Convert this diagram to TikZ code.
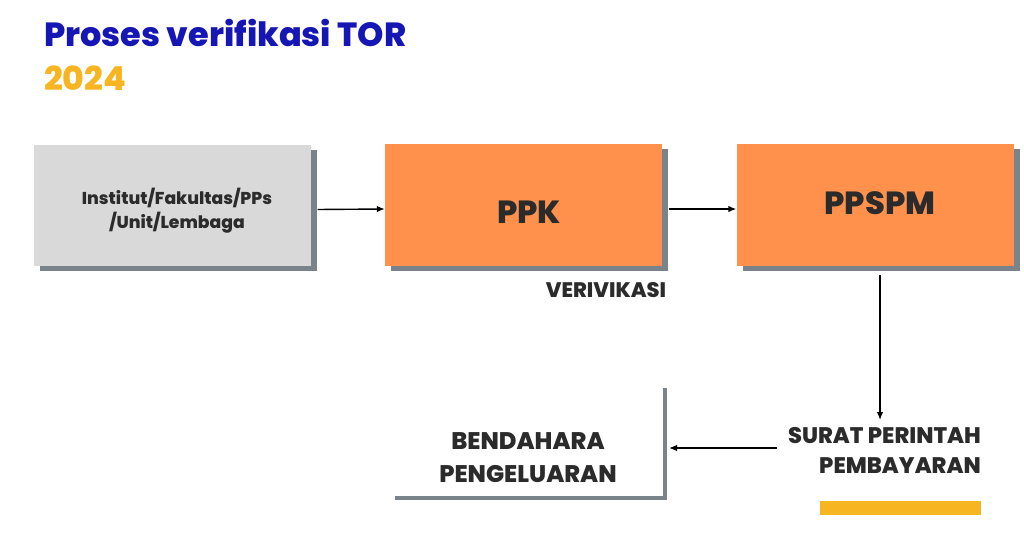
\documentclass[tikz,border=0pt]{standalone}
\usepackage{fontspec}
\setmainfont{Poppins}[BoldFont={* ExtraBold}]
\usetikzlibrary{arrows.meta,shadows}
\definecolor{titleblue}{HTML}{1616B4}
\definecolor{gold}{HTML}{F7B521}
\definecolor{boxgray}{HTML}{D9D9D9}
\definecolor{boxorange}{HTML}{FF914D}
\definecolor{shadowgray}{HTML}{7A838A}
\definecolor{txt}{HTML}{2B2B2B}
\tikzset{
  card/.style={minimum width=277pt, minimum height=121pt, inner sep=0pt,
    drop shadow={shadow xshift=6pt, shadow yshift=-5pt, fill=shadowgray, opacity=1}},
  conn/.style={draw=black, line width=1.4pt, -{Latex[length=8pt,width=6.5pt]}},
  lbl/.style={font=\bfseries\fontsize{21}{30}\selectfont, text=txt, align=center, inner sep=0pt},
}
\begin{document}
\begin{tikzpicture}[x=1pt,y=-1pt]
\useasboundingbox (0,0) rectangle (1024,556);
\node[anchor=base west, inner sep=0pt, text=titleblue, font=\bfseries\fontsize{33.5}{34}\selectfont] (title) at (44,47) {Proses verifikasi TOR};
\node[anchor=base west, inner sep=0pt, text=gold, font=\bfseries\fontsize{33}{34}\selectfont] (year) at (44,91) {2024};

\node[card, fill=boxgray] (inst) at (172,205.5) {};
\node[card, fill=boxorange] (ppk) at (523.5,205) {};
\node[card, fill=boxorange] (ppspm) at (875,205) {};
\node[lbl, font=\bfseries\fontsize{17.2}{24}\selectfont] (insttxt) at (177,211) {Institut/Fakultas/PPs\\/Unit/Lembaga};
\node[lbl, font=\bfseries\fontsize{32}{36}\selectfont] (ppktxt) at (529,212) {PPK};
\node[lbl, font=\bfseries\fontsize{32}{36}\selectfont] (ppspmtxt) at (880,203) {PPSPM};

\node[lbl] (ver) at (606,290) {VERIVIKASI};
\node[lbl, align=right, anchor=east, font=\bfseries\fontsize{22.5}{30}\selectfont] (spm) at (981,450) {SURAT PERINTAH\\PEMBAYARAN};

\node[minimum width=272pt, minimum height=114pt, inner sep=0pt] (bend) at (525,445) {};
\node[lbl, font=\bfseries\fontsize{24}{33}\selectfont] (bendtxt) at (528,457.5) {BENDAHARA\\PENGELUARAN};
\fill[shadowgray] ([xshift=2pt]bend.north east) rectangle ([xshift=6pt,yshift=6pt]bend.south east);
\fill[shadowgray] ([xshift=6pt,yshift=2pt]bend.south west) rectangle ([xshift=6pt,yshift=6pt]bend.south east);

\fill[gold] (820,501) rectangle (981,515);

\coordinate (ppspmout) at (880,275);
\coordinate (spmin) at (880,420);
\coordinate (spmout) at (777,448);
\coordinate (bendin) at (669,448);

\draw[conn] ([xshift=7pt,yshift=-4pt]inst.east) -- ([yshift=-4pt]ppk.west);
\draw[conn] ([xshift=7pt,yshift=-4pt]ppk.east) -- ([yshift=-4pt]ppspm.west);
\draw[conn] (ppspmout) -- (spmin);
\draw[conn] (spmout) -- (bendin);
\end{tikzpicture}
\end{document}
